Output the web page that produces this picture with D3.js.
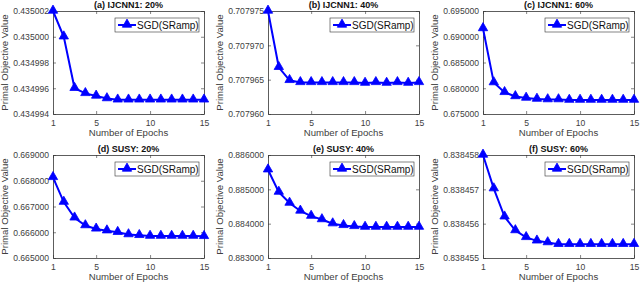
<!DOCTYPE html>
<html>
<head>
<meta charset="utf-8">
<script src="https://cdn.jsdelivr.net/npm/d3@7"></script>
<style>
  body { margin: 0; background: #fff; }
  svg { display: block; font-family: "Liberation Sans", Arial, sans-serif; }
</style>
</head>
<body>
<svg width="640" height="285"></svg>
<script>
var epochs = [1, 2, 3, 4, 5, 6, 7, 8, 9, 10, 11, 12, 13, 14, 15];
var xTicks = [1, 5, 10, 15];

var titles = ["(a) IJCNN1: 20%", "(b) IJCNN1: 40%", "(c) IJCNN1: 60%",
              "(d) SUSY: 20%", "(e) SUSY: 40%", "(f) SUSY: 60%"];

// objective values per epoch
var ijcnn20 = [0.435002, 0.435000, 0.434996, 0.4349956, 0.4349954, 0.4349952, 0.4349951, 0.4349951,
               0.4349951, 0.4349951, 0.4349951, 0.4349951, 0.4349951, 0.4349951, 0.4349951];
var ijcnn40 = [0.707975, 0.7079668, 0.7079649, 0.7079646, 0.7079646, 0.7079646, 0.7079646, 0.7079646,
               0.7079646, 0.7079645, 0.7079646, 0.7079645, 0.7079646, 0.7079645, 0.7079646];
var ijcnn60 = [0.6916, 0.6811, 0.6792, 0.6784, 0.6781, 0.6779, 0.6778, 0.6778,
               0.6777, 0.6777, 0.6777, 0.6777, 0.6777, 0.6777, 0.6777];
var susy20 = [0.66813, 0.66717, 0.66656, 0.66626, 0.66613, 0.66606, 0.666, 0.66591,
              0.66588, 0.66585, 0.66585, 0.66585, 0.66585, 0.66585, 0.66584];
var susy40 = [0.88557, 0.88492, 0.8846, 0.88437, 0.88422, 0.88412, 0.884, 0.88395,
              0.88392, 0.8839, 0.8839, 0.8839, 0.8839, 0.8839, 0.8839];
var susy60 = [0.838458, 0.83845702, 0.8384562, 0.8384558, 0.8384556, 0.8384555, 0.83845545, 0.8384554,
              0.8384554, 0.8384554, 0.8384554, 0.8384554, 0.8384554, 0.8384554, 0.8384554];

var yTicksA = [0.434994, 0.434996, 0.434998, 0.435000, 0.435002];
var yTicksB = [0.707960, 0.707965, 0.707970, 0.707975];
var yTicksC = [0.675, 0.680, 0.685, 0.690, 0.695];
var yTicksD = [0.665, 0.666, 0.667, 0.668, 0.669];
var yTicksE = [0.883, 0.884, 0.885, 0.886];
var yTicksF = [0.838455, 0.838456, 0.838457, 0.838458];

var series = [ijcnn20, ijcnn40, ijcnn60, susy20, susy40, susy60];
var yTicks = [yTicksA, yTicksB, yTicksC, yTicksD, yTicksE, yTicksF];

var plotLeft = [53, 268, 483], plotTop = [11, 155];
var plotW = 151, plotH = 103;
var blue = "#0000ff", axisCol = "#333", textCol = "#404040";

var svg = d3.select("svg");

series.forEach(function(vals, i) {
  var col = i % 3, row = Math.floor(i / 3);
  var ticks = yTicks[i];
  var g = svg.append("g")
             .attr("transform", "translate(" + plotLeft[col] + "," + plotTop[row] + ")");

  var x = d3.scaleLinear().domain([1, 15]).range([0, plotW]);
  var y = d3.scaleLinear().domain([ticks[0], ticks[ticks.length - 1]]).range([plotH, 0]);

  g.append("rect")
   .attr("width", plotW).attr("height", plotH)
   .attr("fill", "#fff");

  // axes, ticks pointing inside like matlab
  g.append("g").attr("transform", "translate(0," + plotH + ")")
   .call(d3.axisBottom(x).tickValues(xTicks).tickSizeInner(-3).tickSizeOuter(0).tickPadding(6));
  g.append("g")
   .call(d3.axisLeft(y).tickValues(ticks).tickFormat(d3.format(".6f"))
           .tickSizeInner(-3).tickSizeOuter(0).tickPadding(4));
  g.append("g").attr("transform", "translate(" + plotW + ",0)")
   .call(d3.axisRight(y).tickValues(ticks).tickFormat("").tickSizeInner(-3).tickSizeOuter(0));
  g.append("g")
   .call(d3.axisTop(x).tickValues(xTicks).tickFormat("").tickSizeInner(-3).tickSizeOuter(0));

  g.selectAll(".domain").attr("stroke", axisCol).attr("stroke-width", 0.8);
  g.selectAll(".tick line").attr("stroke", axisCol).attr("stroke-width", 0.6);
  g.selectAll(".tick text").attr("fill", textCol).style("font-size", "8.6px")
   .style("font-family", "Liberation Sans, Arial, sans-serif");

  // series line + triangle markers
  var line = d3.line()
               .x(function(d, j) { return x(epochs[j]); })
               .y(function(d) { return y(d); });
  g.append("path").datum(vals)
   .attr("d", line).attr("fill", "none")
   .attr("stroke", blue).attr("stroke-width", 2);

  g.selectAll(".mark").data(vals).enter()
   .append("path").attr("class", "mark")
   .attr("d", d3.symbol().type(d3.symbolTriangle).size(38))
   .attr("transform", function(d, j) { return "translate(" + x(epochs[j]) + "," + (y(d) - 0.5) + ")"; })
   .attr("fill", blue).attr("stroke", blue).attr("stroke-width", 0.8);

  // title and axis labels
  g.append("text")
   .attr("x", plotW / 2).attr("y", -3)
   .attr("text-anchor", "middle")
   .style("font-size", "9px").style("font-weight", "bold")
   .attr("fill", "#111")
   .text(titles[i]);

  g.append("text")
   .attr("x", plotW / 2).attr("y", plotH + 22)
   .attr("text-anchor", "middle")
   .style("font-size", "9.6px")
   .attr("fill", textCol)
   .text("Number of Epochs");

  g.append("text")
   .attr("transform", "translate(-45," + (plotH / 2) + ") rotate(-90)")
   .attr("text-anchor", "middle")
   .style("font-size", "9.6px")
   .attr("fill", textCol)
   .text("Primal Objective Value");

  // legend
  var lg = g.append("g").attr("transform", "translate(" + (plotW - 89) + ",7)");
  lg.append("rect")
    .attr("width", 84).attr("height", 14)
    .attr("fill", "#fff").attr("stroke", "#333").attr("stroke-width", 0.6);
  lg.append("line")
    .attr("x1", 3).attr("x2", 21).attr("y1", 7).attr("y2", 7)
    .attr("stroke", blue).attr("stroke-width", 2);
  lg.append("path")
    .attr("d", d3.symbol().type(d3.symbolTriangle).size(38))
    .attr("transform", "translate(12,6.5)")
    .attr("fill", blue).attr("stroke", blue).attr("stroke-width", 0.8);
  lg.append("text")
    .attr("x", 22).attr("y", 10.5)
    .style("font-size", "10px")
    .attr("fill", "#111")
    .text("SGD(SRamp)");
});
</script>
</body>
</html>
